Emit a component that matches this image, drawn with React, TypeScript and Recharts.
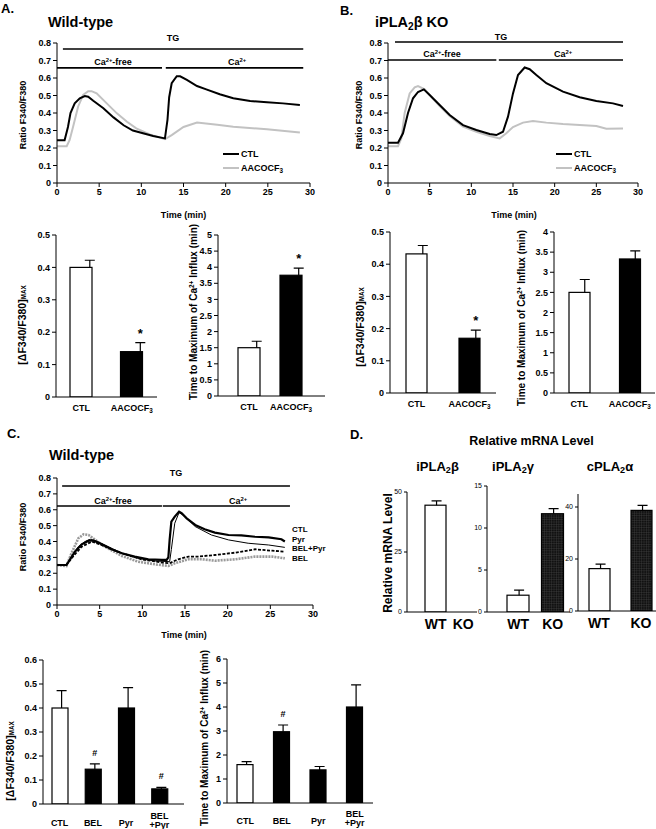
import React from 'react'
import { LineChart, Line, XAxis, YAxis, ReferenceLine, BarChart, Bar, Cell } from 'recharts'

const FONT = '"Liberation Sans", Arial, Helvetica, sans-serif'

// shared ticks
const timeTicks = [0, 5, 10, 15, 20, 25, 30]
const ratioTicks = [0, 0.1, 0.2, 0.3, 0.4, 0.5, 0.6, 0.7, 0.8]

// A. wild-type traces (time in min, ratio F340/F380)
const aCtlTime = [0, 0.9, 1.3, 1.6, 2.1, 2.7, 3.3, 3.7, 4.3, 5.5, 6.7, 7.9, 9.0, 10.2, 11.4, 12.8, 13.1, 13.3, 13.6, 14.2, 14.6, 15.4, 16.6, 17.7, 19.3, 20.9, 22.9, 24.9, 26.8, 28.8]
const aCtlRatio = [0.245, 0.245, 0.32, 0.40, 0.455, 0.484, 0.497, 0.493, 0.47, 0.427, 0.375, 0.33, 0.30, 0.284, 0.269, 0.255, 0.36, 0.49, 0.57, 0.61, 0.61, 0.589, 0.554, 0.535, 0.507, 0.484, 0.469, 0.461, 0.455, 0.446]
const aAacTime = [0, 1.15, 1.5, 1.9, 2.5, 3.1, 3.7, 4.1, 4.7, 5.9, 7.1, 8.3, 9.4, 11.0, 12.8, 13.6, 15.0, 16.6, 19.0, 20.9, 24.9, 28.8]
const aAacRatio = [0.21, 0.21, 0.246, 0.32, 0.436, 0.503, 0.525, 0.525, 0.512, 0.455, 0.398, 0.35, 0.312, 0.278, 0.25, 0.274, 0.32, 0.345, 0.333, 0.322, 0.307, 0.288]
// [start, end, level] of the TG / Ca2+-free / Ca2+ bars
const aSegs = [[0.7, 29.2, 0.766], [0, 12.45, 0.658], [12.9, 29.2, 0.658]]

// B. iPLA2beta KO traces
const bCtlTime = [0, 1.2, 1.8, 2.4, 3.0, 3.6, 4.3, 5.0, 6.2, 7.4, 9.0, 10.6, 12.2, 13.0, 13.8, 14.4, 15.0, 15.6, 16.4, 17.0, 17.8, 19.0, 21.0, 23.0, 25.0, 27.0, 28.2]
const bCtlRatio = [0.23, 0.23, 0.284, 0.40, 0.484, 0.52, 0.535, 0.503, 0.446, 0.389, 0.331, 0.303, 0.28, 0.274, 0.293, 0.379, 0.512, 0.617, 0.66, 0.65, 0.617, 0.57, 0.522, 0.49, 0.469, 0.455, 0.44]
const bAacTime = [0, 1.2, 1.6, 2.0, 2.6, 3.2, 3.6, 4.4, 5.0, 6.2, 7.4, 9.0, 10.6, 12.2, 13.4, 14.2, 15.0, 16.2, 17.4, 19.0, 21.0, 25.0, 26.2, 28.2]
const bAacRatio = [0.21, 0.21, 0.255, 0.40, 0.512, 0.547, 0.554, 0.535, 0.503, 0.44, 0.383, 0.322, 0.293, 0.269, 0.255, 0.284, 0.32, 0.345, 0.354, 0.345, 0.337, 0.326, 0.31, 0.312]
const bSegs = [[0.84, 28.2, 0.806], [0, 13, 0.703], [13.3, 28.2, 0.703]]

// C. wild-type with BEL / Pyr
const cCtlTime = [0, 1.1, 1.5, 2.1, 2.9, 3.7, 4.3, 5.2, 6.4, 7.6, 9.1, 10.7, 12.3, 12.85, 13.05, 13.2, 13.4, 13.8, 14.3, 14.6, 15.2, 16.2, 17.3, 18.5, 20.1, 21.6, 23.2, 24.8, 26.3, 26.7]
const cCtlRatio = [0.252, 0.252, 0.284, 0.336, 0.382, 0.405, 0.405, 0.384, 0.351, 0.326, 0.305, 0.288, 0.284, 0.284, 0.30, 0.41, 0.525, 0.557, 0.588, 0.578, 0.546, 0.504, 0.477, 0.456, 0.441, 0.439, 0.43, 0.426, 0.414, 0.40]
const cPyrTime = [0, 1.1, 1.7, 2.5, 3.3, 3.9, 4.5, 5.6, 7.6, 9.5, 11.5, 13.2, 13.4, 13.8, 14.3, 14.8, 16.2, 18.1, 20.1, 22.4, 24.8, 26.7]
const cPyrRatio = [0.252, 0.252, 0.305, 0.368, 0.40, 0.414, 0.405, 0.378, 0.326, 0.294, 0.277, 0.273, 0.35, 0.515, 0.582, 0.567, 0.494, 0.441, 0.41, 0.389, 0.378, 0.363]
const cBelPyrTime = [0, 1.1, 1.7, 2.9, 4.1, 5.2, 7.6, 9.9, 12.3, 13.2, 14.2, 15.4, 16.6, 18.5, 20.9, 23.2, 25.2, 26.7]
const cBelPyrRatio = [0.252, 0.252, 0.294, 0.368, 0.40, 0.378, 0.326, 0.288, 0.267, 0.263, 0.288, 0.305, 0.305, 0.315, 0.33, 0.351, 0.342, 0.336]
const cBelTime = [0, 1.1, 1.7, 2.5, 3.1, 3.7, 4.5, 5.6, 7.6, 9.5, 11.5, 13.05, 13.8, 15.4, 17.0, 18.5, 20.9, 23.2, 25.2, 26.7]
const cBelRatio = [0.252, 0.245, 0.326, 0.42, 0.445, 0.441, 0.41, 0.368, 0.309, 0.273, 0.256, 0.246, 0.263, 0.288, 0.288, 0.279, 0.288, 0.305, 0.305, 0.294]
const cSegs = [[0.6, 27.3, 0.75], [0, 12.3, 0.624], [12.4, 27.3, 0.624]]

// bar summaries
const abNames = ['CTL', 'AACOCF3']
const aMaxVals = [0.40, 0.14]
const aMaxErr = [0.022, 0.028]
const aMaxMarks = ['', '*']
const aPeakVals = [1.5, 3.75]
const aPeakErr = [0.2, 0.22]
const aPeakMarks = ['', '*']
const bMaxVals = [0.432, 0.17]
const bMaxErr = [0.026, 0.025]
const bMaxMarks = ['', '*']
const bPeakVals = [2.5, 3.33]
const bPeakErr = [0.32, 0.2]

const cNames = ['CTL', 'BEL', 'Pyr', 'BEL\n+Pyr']
const cMaxVals = [0.40, 0.145, 0.40, 0.063]
const cMaxErr = [0.072, 0.022, 0.085, 0.006]
const cMaxMarks = ['', '#', '', '#']
const cPeakVals = [1.6, 2.97, 1.38, 4.0]
const cPeakErr = [0.12, 0.28, 0.14, 0.92]
const cPeakMarks = ['', '#', '', '']

// D. relative mRNA
const dNames = ['WT', 'KO']
const dBetaVals = [44.5, 0]
const dBetaErr = [1.8, 0]
const dGammaVals = [2.0, 11.7]
const dGammaErr = [0.6, 0.6]
const dAlphaVals = [16.3, 38.7]
const dAlphaErr = [1.7, 1.9]

const pts = (t: number[], v: number[]) => t.map((x, i) => ({ t: x, v: v[i] }))
const bars = (names: string[], vals: number[], errs: number[], marks?: string[]) =>
  names.map((name, i) => ({ name, value: vals[i], err: errs[i], mark: marks ? marks[i] : '' }))

const axisStyle = { stroke: '#000', strokeWidth: 1 }
const tickStyle = { fill: '#000', fontSize: 9, fontWeight: 700, fontFamily: FONT }
const smallTick = { fill: '#000', fontSize: 7, fontWeight: 400, fontFamily: FONT }

const sup = (s: string) => <span style={{ fontSize: '0.65em', position: 'relative', top: '-0.45em' }}>{s}</span>
const sub = (s: string) => <span style={{ fontSize: '0.7em', position: 'relative', top: '0.3em' }}>{s}</span>

function T({ x, y, size = 9, weight = 700, align = 'center', lh = 1, children }: any) {
  const tx = align === 'center' ? '-50%' : align === 'right' ? '-100%' : '0'
  return (
    <div style={{ position: 'absolute', left: x, top: y, fontSize: size, fontWeight: weight, lineHeight: lh, whiteSpace: 'nowrap', transform: `translate(${tx},-50%)` }}>
      {children}
    </div>
  )
}

function VT({ x, y, size = 10, children }: any) {
  return (
    <div style={{ position: 'absolute', left: x, top: y, fontSize: size, fontWeight: 700, lineHeight: 1, whiteSpace: 'nowrap', transform: 'translate(-50%,-50%) rotate(-90deg)' }}>
      {children}
    </div>
  )
}

function Key({ x, y, color, children }: any) {
  return (
    <>
      <div style={{ position: 'absolute', left: x, top: y - 1.25, width: 16, height: 2.5, background: color }} />
      <T x={x + 18} y={y} align="left" size={9}>{children}</T>
    </>
  )
}

function CatTick({ x, y, payload, dy = 8.5, size = 9 }: any) {
  const lines = String(payload.value).split('\n')
  const first = lines.length > 1 ? dy - 7 : dy
  return (
    <text x={x} y={y} textAnchor="middle" fontSize={size} fontWeight={700} fontFamily={FONT} fill="#000">
      {lines.map((ln, i) => (
        <tspan key={i} x={x} dy={i === 0 ? first : 9}>
          {ln.endsWith('CF3') ? <>{ln.slice(0, -1)}<tspan fontSize={size * 0.7} dy={2}>3</tspan></> : ln}
        </tspan>
      ))}
    </text>
  )
}

function ErrShape(props: any) {
  const { x, y, width, height, fill, payload, errFrac = 0.5 } = props
  const unit = payload.value ? height / payload.value : 0
  const ex = x + width * errFrac
  const ey = y - payload.err * unit
  const mk = payload.mark
  return (
    <g>
      <rect x={x} y={y} width={width} height={height} fill={fill} stroke="#000" strokeWidth={1.2} />
      {payload.err > 0 && (
        <path d={`M${ex},${y}V${ey}M${ex - 5},${ey}H${ex + 5}`} stroke="#000" strokeWidth={1.2} fill="none" />
      )}
      {mk && (
        <text x={ex} y={mk === '*' ? ey - 5 : ey - 8} textAnchor="middle" fontSize={mk === '*' ? 13 : 9} fontWeight={700} fontFamily={FONT} fill="#000">
          {mk}
        </text>
      )}
    </g>
  )
}

function TraceChart({ left, top, width, height, yWidth, mRight, mTop, xH, lines, segs }: any) {
  return (
    <div style={{ position: 'absolute', left, top }}>
      <LineChart width={width} height={height} margin={{ top: mTop, right: mRight, left: 0, bottom: 0 }}>
        <XAxis dataKey="t" type="number" domain={[0, 30]} ticks={timeTicks} interval={0} height={xH} tickSize={4} tick={tickStyle} axisLine={axisStyle} tickLine={axisStyle} allowDataOverflow />
        <YAxis type="number" domain={[0, 0.8]} ticks={ratioTicks} interval={0} width={yWidth} tickSize={4} tick={tickStyle} axisLine={axisStyle} tickLine={axisStyle} allowDataOverflow />
        {segs.map((s: number[], i: number) => (
          <ReferenceLine key={i} segment={[{ x: s[0], y: s[2] }, { x: s[1], y: s[2] }]} stroke="#000" strokeWidth={1.6} ifOverflow="visible" />
        ))}
        {lines.map((l: any) => (
          <Line key={l.name} name={l.name} data={l.data} dataKey="v" type="linear" stroke={l.color} strokeWidth={l.width} strokeDasharray={l.dash} dot={false} isAnimationActive={false} />
        ))}
      </LineChart>
    </div>
  )
}

function BarPanel(p: any) {
  const { left, top, width, height, yWidth, mRight, xH = 20, data, domain, ticks, barSize, pad = { left: 0, right: 0 }, errFrac = 0.5, fills, frame = true, yTick = tickStyle, ySize = 4, catSize = 9, catDy = 8.2, catGap = 4 } = p
  return (
    <div style={{ position: 'absolute', left, top }}>
      <BarChart width={width} height={height} data={data} margin={{ top: 10, right: mRight, left: 0, bottom: 0 }}>
        <XAxis dataKey="name" height={xH} padding={pad} interval={0} tickLine={false} tickSize={catGap} axisLine={axisStyle} tick={(t: any) => <CatTick {...t} dy={catDy} size={catSize} />} />
        {frame && <XAxis xAxisId="top" dataKey="name" orientation="top" height={0} padding={pad} tick={false} tickLine={false} axisLine={axisStyle} />}
        <YAxis type="number" domain={domain} ticks={ticks} interval={0} width={yWidth} tickSize={ySize} tick={yTick} tickLine={axisStyle} axisLine={axisStyle} allowDataOverflow />
        {frame && <YAxis yAxisId="right" orientation="right" width={0} tick={false} tickLine={false} axisLine={axisStyle} />}
        <Bar dataKey="value" barSize={barSize} isAnimationActive={false} shape={(s: any) => <ErrShape {...s} errFrac={errFrac} />}>
          {data.map((d: any, i: number) => <Cell key={d.name} fill={fills[i]} />)}
        </Bar>
      </BarChart>
    </div>
  )
}

const maxLabel = <>[ΔF340/F380]<span style={{ fontSize: '0.6em' }}>MAX</span></>
const peakLabel = <>Time to Maximum of Ca{sup('2+')} Influx (min)</>
const caFree = <>Ca{sup('2+')}-free</>
const ca = <>Ca{sup('2+')}</>
const aac = <>AACOCF{sub('3')}</>
const GRAY = '#c2c2c2'

export default function App() {
  const wb = ['#fff', '#000']
  const wbbb = ['#fff', '#000', '#000', '#000']
  const wk = ['#fff', 'url(#koGrid)']
  return (
    <div style={{ position: 'absolute', left: 0, top: 0, width: 656, height: 829, overflow: 'hidden', background: '#fff', fontFamily: FONT, color: '#000' }}>
      <svg width={0} height={0} style={{ position: 'absolute' }}>
        <defs>
          <pattern id="koGrid" width={2.4} height={2.4} patternUnits="userSpaceOnUse">
            <rect width={2.4} height={2.4} fill="#111" />
            <path d="M0 0H2.4M0 0V2.4" stroke="#4a4a4a" strokeWidth={0.6} />
          </pattern>
        </defs>
      </svg>

      {/* A */}
      <T x={1} y={8} size={13} align="left">A.</T>
      <T x={48} y={21.5} size={14.5} align="left">Wild-type</T>
      <TraceChart left={0} top={30} width={330} height={175} yWidth={57} mRight={20} mTop={13} xH={22} segs={aSegs}
        lines={[
          { name: 'AACOCF3', data: pts(aAacTime, aAacRatio), color: GRAY, width: 2 },
          { name: 'CTL', data: pts(aCtlTime, aCtlRatio), color: '#000', width: 2 },
        ]} />
      <T x={173} y={38}>TG</T>
      <T x={113} y={62}>{caFree}</T>
      <T x={237} y={62}>{ca}</T>
      <VT x={23} y={115} size={9}>Ratio F340/F380</VT>
      <T x={183.5} y={215}>Time (min)</T>
      <Key x={223} y={154} color="#000">CTL</Key>
      <Key x={223} y={168} color={GRAY}>{aac}</Key>

      <BarPanel left={0} top={225} width={170} height={192} yWidth={56} mRight={13} data={bars(abNames, aMaxVals, aMaxErr, aMaxMarks)}
        domain={[0, 0.5]} ticks={[0, 0.1, 0.2, 0.3, 0.4, 0.5]} barSize={22} errFrac={0.9} fills={wb} />
      <VT x={22} y={325} size={10.5}>{maxLabel}</VT>
      <BarPanel left={165} top={225} width={170} height={191} yWidth={53} mRight={10} data={bars(abNames, aPeakVals, aPeakErr, aPeakMarks)}
        domain={[0, 5]} ticks={[0, 0.5, 1, 1.5, 2, 2.5, 3, 3.5, 4, 4.5, 5]} barSize={22} pad={{ left: 10, right: 13 }} errFrac={0.85} fills={wb} />
      <VT x={194} y={312} size={10}>{peakLabel}</VT>

      {/* B */}
      <T x={340} y={10} size={13} align="left">B.</T>
      <T x={375} y={21.5} size={14.5} align="left">iPLA{sub('2')}β KO</T>
      <TraceChart left={330} top={30} width={326} height={175} yWidth={58} mRight={18} mTop={13} xH={22} segs={bSegs}
        lines={[
          { name: 'AACOCF3', data: pts(bAacTime, bAacRatio), color: GRAY, width: 2 },
          { name: 'CTL', data: pts(bCtlTime, bCtlRatio), color: '#000', width: 2 },
        ]} />
      <T x={501} y={37}>TG</T>
      <T x={442} y={54}>{caFree}</T>
      <T x={563} y={54}>{ca}</T>
      <VT x={359} y={115} size={9}>Ratio F340/F380</VT>
      <T x={514} y={215}>Time (min)</T>
      <Key x={556} y={154} color="#000">CTL</Key>
      <Key x={556} y={168} color={GRAY}>{aac}</Key>

      <BarPanel left={330} top={222} width={180} height={191} yWidth={60} mRight={14} data={bars(abNames, bMaxVals, bMaxErr, bMaxMarks)}
        domain={[0, 0.5]} ticks={[0, 0.1, 0.2, 0.3, 0.4, 0.5]} barSize={21} errFrac={0.8} fills={wb} />
      <VT x={359.5} y={327} size={10.5}>{maxLabel}</VT>
      <BarPanel left={490} top={222} width={170} height={191} yWidth={64} mRight={5} data={bars(abNames, bPeakVals, bPeakErr)}
        domain={[0, 4]} ticks={[0, 0.5, 1, 1.5, 2, 2.5, 3, 3.5, 4]} barSize={21} errFrac={0.75} fills={wb} />
      <VT x={522} y={318} size={10}>{peakLabel}</VT>

      {/* C */}
      <T x={7} y={433} size={13} align="left">C.</T>
      <T x={49} y={455} size={14.5} align="left">Wild-type</T>
      <TraceChart left={0} top={465} width={330} height={162} yWidth={57} mRight={17} mTop={13} xH={22} segs={cSegs}
        lines={[
          { name: 'BEL', data: pts(cBelTime, cBelRatio), color: '#9a9a9a', width: 2.6, dash: '2 1' },
          { name: 'BEL+Pyr', data: pts(cBelPyrTime, cBelPyrRatio), color: '#000', width: 1.8, dash: '3 1.5' },
          { name: 'Pyr', data: pts(cPyrTime, cPyrRatio), color: '#000', width: 1 },
          { name: 'CTL', data: pts(cCtlTime, cCtlRatio), color: '#000', width: 2.2 },
        ]} />
      <T x={176} y={473}>TG</T>
      <T x={113} y={501}>{caFree}</T>
      <T x={238} y={501}>{ca}</T>
      <VT x={23} y={537} size={9}>Ratio F340/F380</VT>
      <T x={184} y={635}>Time (min)</T>
      <T x={292} y={530} size={8} lh={0.9} align="left">CTL</T>
      <T x={292} y={539.5} size={8} lh={0.9} align="left">Pyr</T>
      <T x={292} y={549} size={8} lh={0.9} align="left">BEL+Pyr</T>
      <T x={292} y={558.5} size={8} lh={0.9} align="left">BEL</T>

      <BarPanel left={0} top={650} width={190} height={179} yWidth={43} mRight={6} xH={25} data={bars(cNames, cMaxVals, cMaxErr, cMaxMarks)}
        domain={[0, 0.6]} ticks={[0, 0.1, 0.2, 0.3, 0.4, 0.5, 0.6]} barSize={16} pad={{ left: 0, right: 8 }} errFrac={0.6} fills={wbbb} catGap={6} catDy={13.5} />
      <VT x={10} y={761} size={10.5}>{maxLabel}</VT>
      <BarPanel left={185} top={649} width={200} height={180} yWidth={42} mRight={12} xH={26} data={bars(cNames, cPeakVals, cPeakErr, cPeakMarks)}
        domain={[0, 6]} ticks={[0, 1, 2, 3, 4, 5, 6]} barSize={16} errFrac={0.6} fills={wbbb} catGap={6} catDy={12.5} />
      <VT x={205} y={738} size={10}>{peakLabel}</VT>

      {/* D */}
      <T x={350} y={434} size={13} align="left">D.</T>
      <T x={531.5} y={441} size={12.5}>Relative mRNA Level</T>
      <T x={437.5} y={466.5} size={13}>iPLA{sub('2')}β</T>
      <T x={513} y={466.5} size={13}>iPLA{sub('2')}γ</T>
      <T x={610} y={466.5} size={13}>cPLA{sub('2')}α</T>
      <VT x={388} y={553} size={12}>Relative mRNA Level</VT>
      <BarPanel left={375} top={482} width={110} height={150} yWidth={32} mRight={8} data={bars(dNames, dBetaVals, dBetaErr)}
        domain={[0, 50]} ticks={[0, 25, 50]} barSize={21} pad={{ left: 15, right: 0 }} errFrac={0.55} fills={wk}
        frame={false} yTick={smallTick} ySize={3} catSize={14} catDy={10.7} />
      <BarPanel left={460} top={476} width={115} height={156} yWidth={27} mRight={5} data={bars(dNames, dGammaVals, dGammaErr)}
        domain={[0, 15]} ticks={[0, 5, 10, 15]} barSize={22} pad={{ left: 14, right: 0 }} errFrac={0.55} fills={wk}
        frame={false} yTick={smallTick} ySize={3} catSize={14} catDy={10.7} />
      <BarPanel left={550} top={484} width={115} height={147} yWidth={28} mRight={3} data={bars(dNames, dAlphaVals, dAlphaErr)}
        domain={[0, 45]} ticks={[0, 20, 40]} barSize={21} errFrac={0.55} fills={wk}
        frame={false} yTick={smallTick} ySize={3} catSize={14} catDy={10.7} />
    </div>
  )
}
